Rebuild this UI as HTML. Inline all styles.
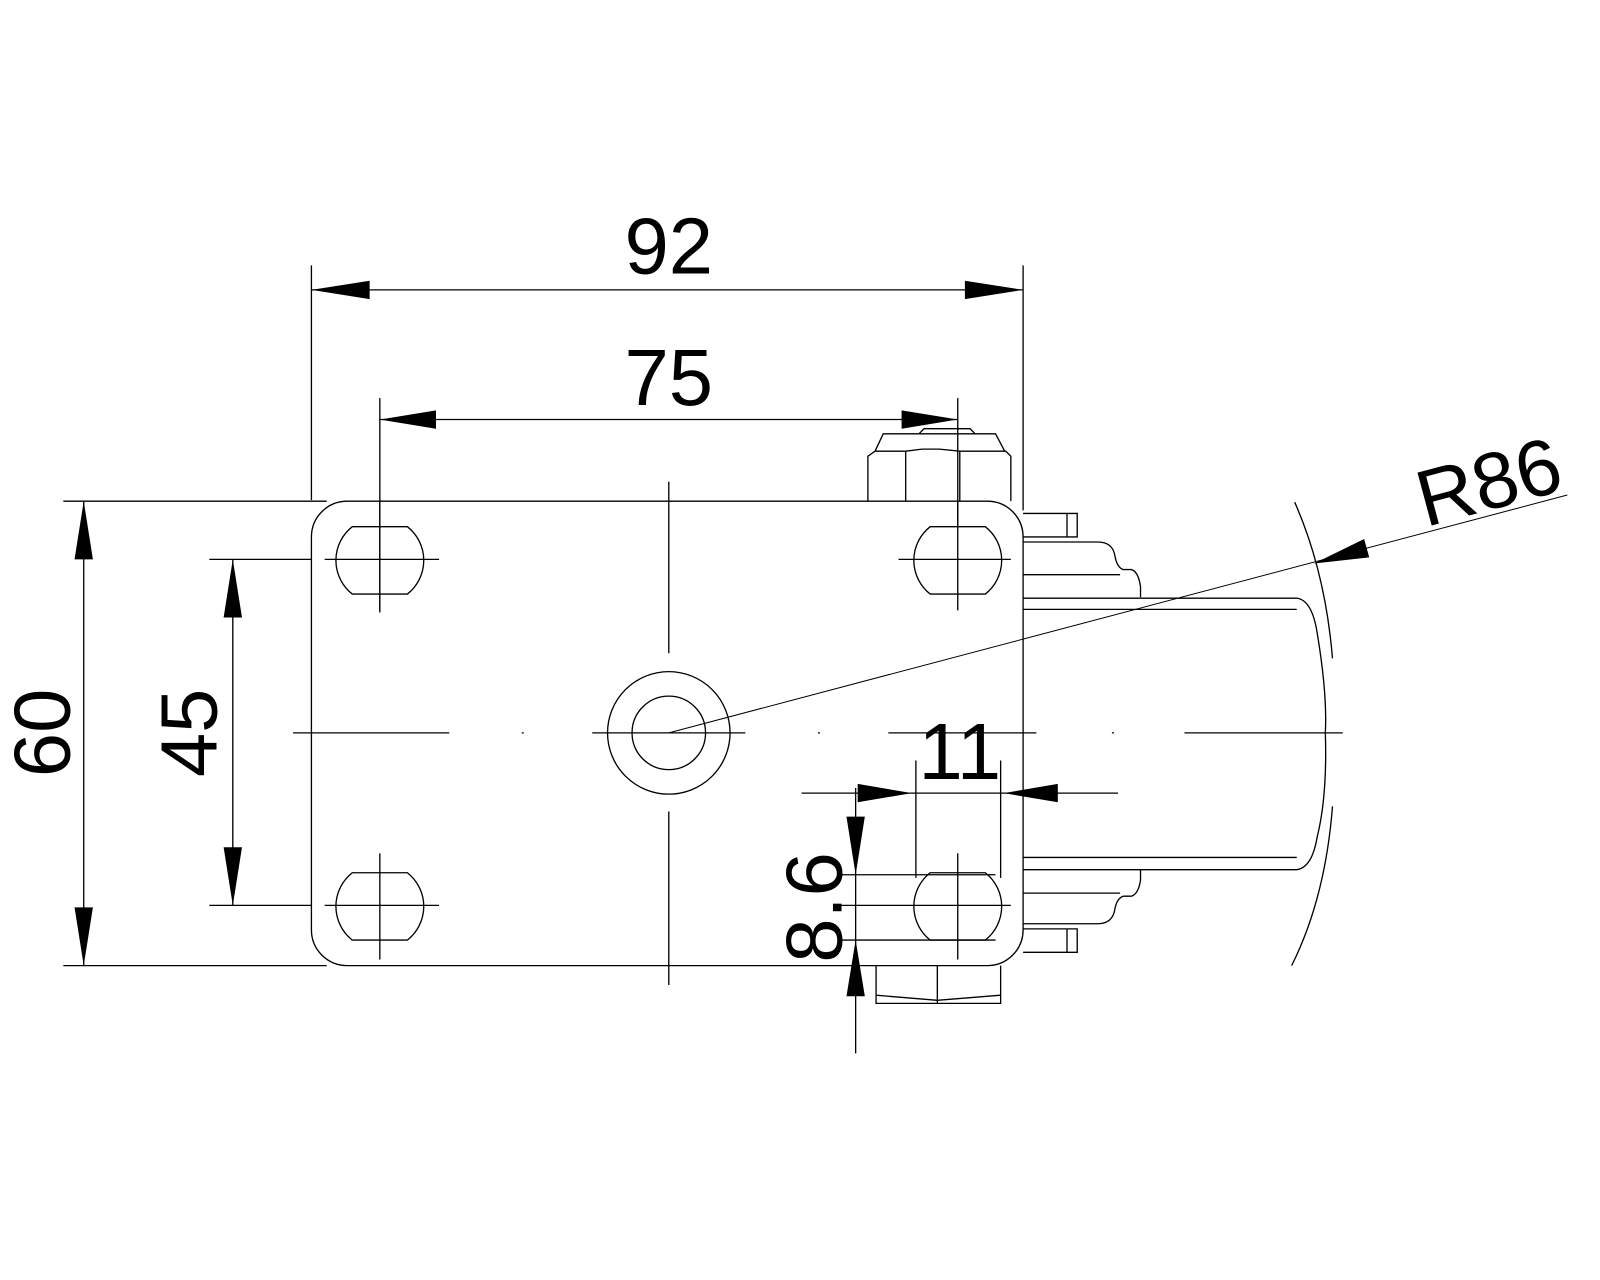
<!DOCTYPE html>
<html><head><style>html,body{margin:0;padding:0;background:#fff}svg{display:block}</style></head>
<body>
<svg width="1600" height="1280" viewBox="0 0 1567 1254" preserveAspectRatio="none" xmlns="http://www.w3.org/2000/svg" font-family="Liberation Sans, sans-serif">
<g fill="none" stroke="#000" stroke-width="1.3">
<!-- plate -->
<rect x="305" y="491" width="697" height="455" rx="35"/>
<!-- holes -->
<path d="M345,516 L399,516 A42,42 0 0 1 399,582 L345,582 A42,42 0 0 1 345,516Z"/>
<path d="M911,516 L965,516 A42,42 0 0 1 965,582 L911,582 A42,42 0 0 1 911,516Z"/>
<path d="M345,855 L399,855 A42,42 0 0 1 399,921 L345,921 A42,42 0 0 1 345,855Z"/>
<path d="M911,855 L965,855 A42,42 0 0 1 965,921 L911,921 A42,42 0 0 1 911,855Z"/>
<!-- crosshairs -->
<path d="M318,548H430M372,492V598M880,548H990M938,492V598M318,887H430M372,836V940M823,887H990M938,836V940"/>
<!-- center hole -->
<circle cx="655" cy="718" r="60"/><circle cx="655" cy="718" r="36"/>
<!-- center lines -->
<path d="M655,472V640M655,795V965M287,718H440M511,718H513M580,718H730M801,718H803M870,718H1015M1089,718H1091M1160,718H1315"/>
<!-- nuts -->
<path d="M850,491V447L857,442H887L903,440H920L940,442H985L990,447V491M887,442V491M940,442V491M857,442L865,425H975L984,442M900,425L905,420H950L955,425"/>
<path d="M858,946V983H980V946M918,946V983M858,975L918,980L980,975"/>
<!-- tabs -->
<path d="M1002,503H1055V526H1002M1045,503V526M1002,910H1055V933H1002M1045,910V933"/>
<!-- fork layers top -->
<path d="M1002,531H1075Q1090,531 1092,545Q1094,556 1100,558H1108Q1115,560 1117,575V585"/>
<path d="M1002,563H1097M1002,586H1270Q1285,588 1290,620Q1300,680 1298,718Q1300,780 1290,820Q1285,850 1270,852H1002M1002,597H1270M1002,840H1270"/>
<path d="M1002,905H1075Q1090,905 1092,890Q1094,880 1100,878H1108Q1115,876 1117,862V852M1002,875H1097"/>
<!-- R86 arcs -->
<path d="M1268,492Q1298,560 1305,645M1305,790Q1298,880 1265,946"/>
<!-- dimension lines -->
<path d="M305,260V490M1002,260V500M305,284H1002"/>
<path d="M372,390V600M938,390V515M372,411H938"/>
<path d="M62,491H320M62,946H320M82,491V946"/>
<path d="M205,548H305M205,887H305M228,548V887"/>
<path d="M785,777H1095M897,745V860M980,745V860"/>
<path d="M838,772V1032M823,857H975M823,921H975"/>
<path d="M655,718L1535,485" stroke-width="1"/>
</g>
<g fill="#000">
<polygon points="305,284 362,275 362,293"/><polygon points="1002,284 945,275 945,293"/>
<polygon points="372,411 427,402 427,420"/><polygon points="938,411 883,402 883,420"/>
<polygon points="82,491 73,548 91,548"/><polygon points="82,946 73,889 91,889"/>
<polygon points="228,548 219,605 237,605"/><polygon points="228,887 219,830 237,830"/>
<polygon points="893,777 840,768 840,786"/><polygon points="983,777 1036,768 1036,786"/>
<polygon points="838,857 829,800 847,800"/><polygon points="838,921 829,976 847,976"/>
<polygon points="1287,552 1336,528 1341,546"/>
</g>
<g font-size="78" text-anchor="middle">
<text x="655" y="268">92</text>
<text x="655" y="397">75</text>
<text x="940" y="763">11</text>
<text transform="translate(68,718) rotate(-90)">60</text>
<text transform="translate(212,718) rotate(-90)">45</text>
<text transform="translate(824,889) rotate(-90)">8.6</text>
<text transform="translate(1465,498) rotate(-15)">R86</text>
</g>
</svg>
</body></html>
